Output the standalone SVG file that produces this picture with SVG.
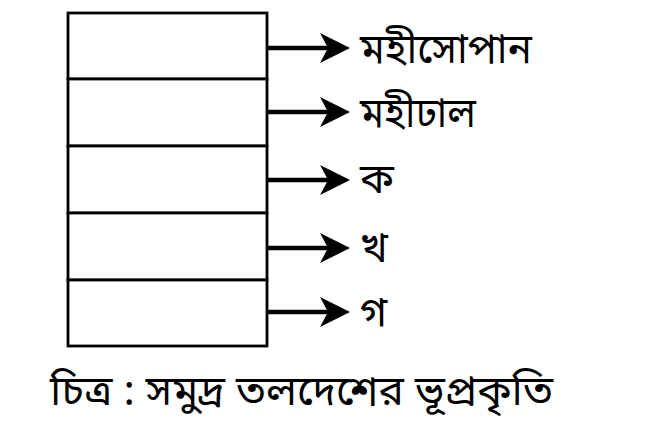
<svg xmlns="http://www.w3.org/2000/svg" width="652" height="426" viewBox="0 0 652 426">
<style>
.box{fill:#fff;stroke:#000;stroke-width:2.8}
.arr{stroke:#000;stroke-width:4.5;fill:none}
.lbl{font-family:"Noto Sans Bengali","Noto Sans","Liberation Sans",sans-serif;font-size:42px;fill:#000}
</style>
<defs>
<path id="head" d="M0,0 L-30,-15 L-22,0 L-30,15 Z" fill="#000"/>
</defs>
<rect width="652" height="426" fill="#fff"/>
<g id="layer1"><rect class="box" x="68" y="13" width="199" height="66"/></g>
<g id="layer2"><rect class="box" x="68" y="79" width="199" height="67"/></g>
<g id="layer3"><rect class="box" x="68" y="146" width="199" height="67"/></g>
<g id="layer4"><rect class="box" x="68" y="213" width="199" height="67"/></g>
<g id="layer5"><rect class="box" x="68" y="280" width="199" height="66"/></g>
<g id="connectors">
<line class="arr" x1="267" y1="48" x2="330" y2="48"/><use href="#head" x="350" y="48"/>
<line class="arr" x1="267" y1="112" x2="330" y2="112"/><use href="#head" x="350" y="112"/>
<line class="arr" x1="267" y1="180" x2="330" y2="180"/><use href="#head" x="350" y="180"/>
<line class="arr" x1="267" y1="248" x2="330" y2="248"/><use href="#head" x="350" y="248"/>
<line class="arr" x1="267" y1="312" x2="330" y2="312"/><use href="#head" x="350" y="312"/>
</g>
<g id="labels">
<text class="lbl" x="360" y="63" textLength="172" lengthAdjust="spacingAndGlyphs">মহীসোপান</text>
<text class="lbl" x="360" y="127" textLength="116" lengthAdjust="spacingAndGlyphs">মহীঢাল</text>
<text class="lbl" x="360" y="193">ক</text>
<text class="lbl" x="360" y="261">খ</text>
<text class="lbl" x="360" y="326">গ</text>
<text class="lbl" x="50" y="405" textLength="503" lengthAdjust="spacingAndGlyphs">চিত্র : সমুদ্র তলদেশের ভূপ্রকৃতি</text>
</g>
</svg>
